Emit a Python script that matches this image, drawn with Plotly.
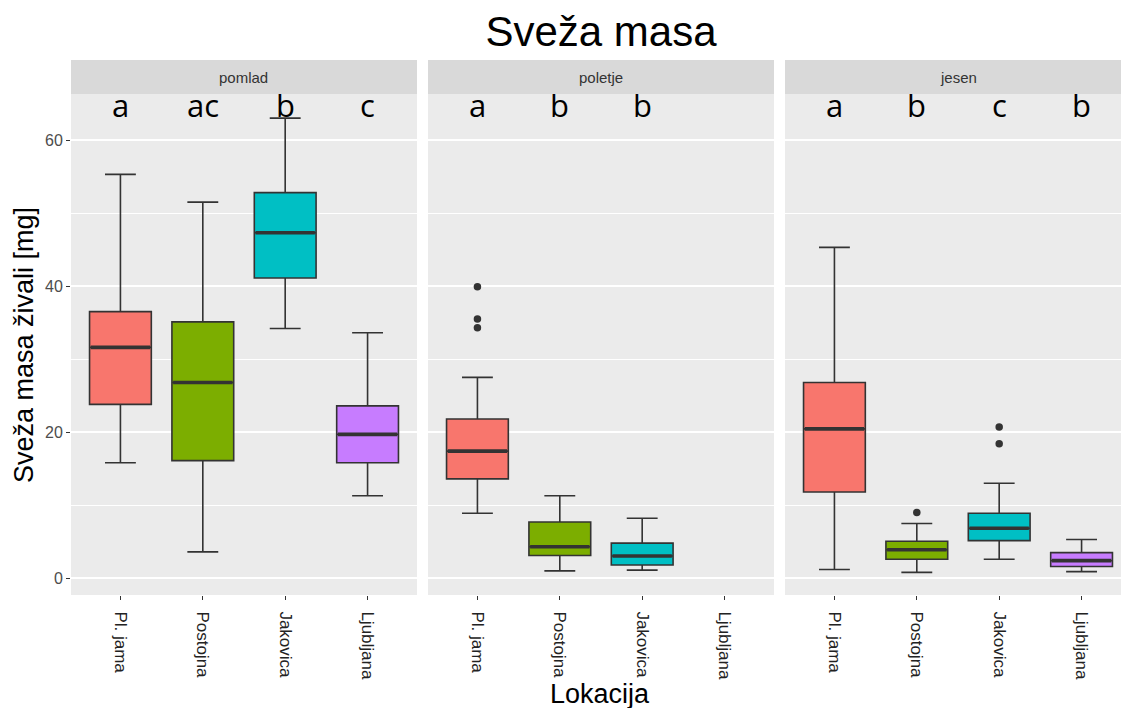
import plotly.graph_objects as go

locations = ["Pl. jama", "Postojna", "Jakovica", "Ljubljana"]
seasons = ["pomlad", "poletje", "jesen"]
colors = ["#F8766D", "#7CAE00", "#00BFC4", "#C77CFF"]

# per season: lists over locations (None = no data)
pomlad_low = [15.8, 3.6, 34.2, 11.3]
pomlad_q1 = [23.8, 16.1, 41.1, 15.8]
pomlad_med = [31.6, 26.8, 47.3, 19.7]
pomlad_q3 = [36.5, 35.1, 52.8, 23.6]
pomlad_high = [55.3, 51.5, 63.0, 33.6]

poletje_low = [8.9, 1.0, 1.1, None]
poletje_q1 = [13.6, 3.1, 1.8, None]
poletje_med = [17.4, 4.3, 3.05, None]
poletje_q3 = [21.8, 7.7, 4.8, None]
poletje_high = [27.5, 11.3, 8.2, None]

jesen_low = [1.2, 0.8, 2.6, 0.9]
jesen_q1 = [11.8, 2.6, 5.15, 1.6]
jesen_med = [20.45, 3.9, 6.85, 2.4]
jesen_q3 = [26.8, 5.07, 8.9, 3.5]
jesen_high = [45.3, 7.5, 13.0, 5.3]

outlier_season = ["poletje", "poletje", "poletje", "jesen", "jesen", "jesen"]
outlier_loc = ["Pl. jama", "Pl. jama", "Pl. jama", "Postojna", "Jakovica", "Jakovica"]
outlier_val = [39.9, 35.5, 34.3, 9.0, 20.7, 18.4]

letters_pomlad = ["a", "ac", "b", "c"]
letters_poletje = ["a", "b", "b", ""]
letters_jesen = ["a", "b", "c", "b"]

stats = {
    "pomlad": (pomlad_low, pomlad_q1, pomlad_med, pomlad_q3, pomlad_high, letters_pomlad),
    "poletje": (poletje_low, poletje_q1, poletje_med, poletje_q3, poletje_high, letters_poletje),
    "jesen": (jesen_low, jesen_q1, jesen_med, jesen_q3, jesen_high, letters_jesen),
}

W, H = 1121, 708
ml, mr, mt, mb = 71, 0, 94, 113
pw = W - ml - mr
ph = H - mt - mb
domains = [(0, 346 / pw), ((428 - ml) / pw, (774 - ml) / pw), ((785 - ml) / pw, 1.0)]
px_per_unit = 346 / 4.2
ranges = [[-0.6, 3.6], [-0.6, 3.6], [-0.6, -0.6 + 336 / px_per_unit]]

fig = go.Figure()
axis_names = ["", "2", "3"]
for i, s in enumerate(seasons):
    low, q1, med, q3, high, letters = stats[s]
    xa = "x" + axis_names[i]
    ya = "y" + axis_names[i]
    for j, loc in enumerate(locations):
        if med[j] is None:
            continue
        fig.add_trace(go.Box(
            x=[loc], q1=[q1[j]], median=[med[j]], q3=[q3[j]],
            lowerfence=[low[j]], upperfence=[high[j]],
            width=0.75, fillcolor=colors[j],
            line=dict(color="#333333", width=1.6),
            boxpoints=False, showlegend=False, hoverinfo="skip",
            xaxis=xa, yaxis=ya,
        ))
        # thick median bar (ggplot fatten) as a zero-height box at the median
        fig.add_trace(go.Box(
            x=[loc], q1=[med[j]], median=[med[j]], q3=[med[j]],
            lowerfence=[med[j]], upperfence=[med[j]],
            width=0.75 - 0.03, fillcolor="rgba(0,0,0,0)",
            line=dict(color="#333333", width=3.6),
            boxpoints=False, showlegend=False, hoverinfo="skip",
            xaxis=xa, yaxis=ya,
        ))
    ox = [outlier_loc[k] for k in range(len(outlier_val)) if outlier_season[k] == s]
    oy = [outlier_val[k] for k in range(len(outlier_val)) if outlier_season[k] == s]
    if ox:
        fig.add_trace(go.Scatter(
            x=ox, y=oy, mode="markers",
            marker=dict(size=7.5, color="#333333"),
            showlegend=False, hoverinfo="skip", xaxis=xa, yaxis=ya,
        ))
    # significance letters
    for j, loc in enumerate(locations):
        if letters[j]:
            fig.add_annotation(x=loc, y=64.8, text=letters[j], xref=xa, yref=ya,
                               showarrow=False, yanchor="middle",
                               font=dict(family="Open Sans", size=31, color="black"))
    # strip
    d0, d1 = domains[i]
    fig.add_shape(type="rect", xref="paper", yref="paper", x0=d0, x1=d1,
                  y0=1, y1=1 + 34 / ph, fillcolor="#d9d9d9", line=dict(width=0), layer="below")
    full_end = d0 + 346 / pw
    fig.add_annotation(xref="paper", yref="paper", x=(d0 + full_end) / 2, y=1 + 17 / ph,
                       text=s, showarrow=False, yanchor="middle", xanchor="center",
                       font=dict(family="Liberation Sans", size=15, color="#333333"))

layout_axes = {}
for i in range(3):
    xkey = "xaxis" + axis_names[i]
    ykey = "yaxis" + axis_names[i]
    layout_axes[xkey] = dict(
        domain=list(domains[i]), type="category", categoryorder="array",
        categoryarray=locations, range=ranges[i], anchor="y" + axis_names[i],
        showgrid=False, zeroline=False, ticks="outside", ticklen=4, tickwidth=1,
        tickcolor="#333333", tickangle=90, ticklabelstandoff=8,
        tickfont=dict(family="Liberation Sans", size=17, color="#222222"),
        showline=False, fixedrange=True,
    )
    layout_axes[ykey] = dict(
        domain=[0, 1], range=[-2.3, 66.3], anchor="x" + axis_names[i],
        tickvals=[0, 20, 40, 60], showticklabels=(i == 0),
        ticks="outside" if i == 0 else "", ticklen=4, tickwidth=1, tickcolor="#333333",
        tickfont=dict(family="Liberation Sans", size=16, color="#4d4d4d"),
        showgrid=True, gridcolor="white", gridwidth=1.8,
        minor=dict(tickvals=[10, 30, 50], showgrid=True, gridcolor="white", gridwidth=0.9, ticks=""),
        zeroline=False, showline=False, fixedrange=True,
    )

fig.update_layout(
    width=W, height=H,
    margin=dict(l=ml, r=mr, t=mt, b=mb),
    paper_bgcolor="white", plot_bgcolor="#ebebeb",
    title=dict(text="Sveža masa", x=601 / W, xanchor="center", y=1 - 31 / H, yanchor="middle",
               font=dict(family="Liberation Sans", size=42, color="black")),
    **layout_axes,
)
fig.add_annotation(xref="paper", yref="paper", x=(600 - ml) / pw, y=-(694 - mt - ph) / ph,
                   text="Lokacija", showarrow=False, yanchor="middle", xanchor="center",
                   font=dict(family="Liberation Sans", size=27, color="black"))
fig.add_annotation(xref="paper", yref="paper", x=-(ml - 24) / pw, y=(H - mb - 345) / ph,
                   text="Sveža masa živali [mg]", showarrow=False, textangle=-90,
                   xanchor="center", yanchor="middle",
                   font=dict(family="Liberation Sans", size=27, color="black"))

fig.write_html("out.html")
